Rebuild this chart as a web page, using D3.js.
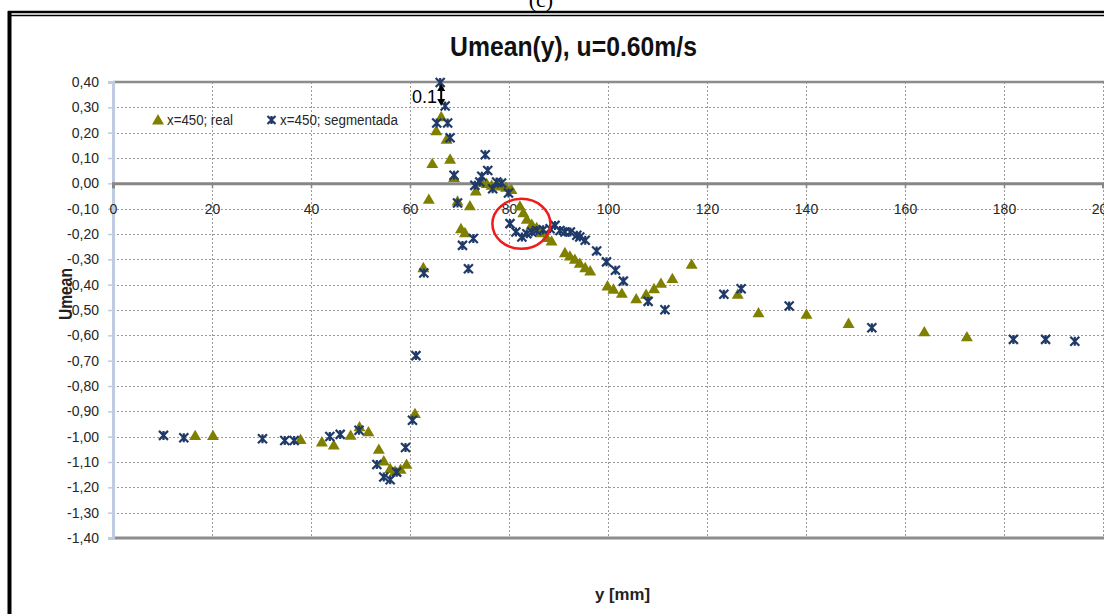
<!DOCTYPE html>
<html>
<head>
<meta charset="utf-8">
<script src="https://cdn.jsdelivr.net/npm/d3@7"></script>
<style>
  html, body { margin:0; padding:0; background:#fff; }
  svg { display:block; font-family:"Liberation Sans",Arial,sans-serif; }
  .grid line { stroke:#9a9a9a; stroke-width:1; stroke-dasharray:2,2; }
  .tick-label { fill:#262626; font-size:14px; }
</style>
</head>
<body>
<svg id="chart" width="1104" height="614"></svg>
<script>
// series: x=450, real (triangles)
const realX = [16.6, 20.2, 37.9, 42.2, 44.6, 48.0, 49.8, 51.6, 53.7, 54.7, 56.0, 57.0, 58.1, 59.3, 61.0,
  62.7, 63.8, 64.5, 65.3, 66.3, 67.4, 68.1, 68.9, 69.6, 70.3, 71.1, 72.1, 73.3, 74.5, 75.5, 76.5, 77.5,
  78.5, 79.4, 80.5, 82.2, 82.9, 83.6, 84.6, 85.6, 86.6, 87.6, 88.6, 91.3, 92.3, 93.3, 94.3, 95.4, 96.4,
  99.9, 101.1, 102.8, 105.7, 107.7, 109.3, 110.7, 113.0, 116.9, 126.2, 130.4, 140.1, 148.6, 163.9, 172.5];
const realY = [-1.00, -1.00, -1.015, -1.025, -1.037, -0.999, -0.965, -0.985, -1.054, -1.10, -1.13, -1.14, -1.133, -1.113, -0.913,
  -0.337, -0.067, 0.074, 0.203, 0.259, 0.170, 0.091, 0.019, -0.074, -0.183, -0.199, -0.093, -0.034, 0.00, -0.005, -0.012, -0.008,
  -0.015, -0.02, -0.028, -0.094, -0.12, -0.146, -0.166, -0.179, -0.199, -0.218, -0.232, -0.278, -0.291, -0.304, -0.32, -0.337, -0.35,
  -0.409, -0.422, -0.438, -0.46, -0.442, -0.42, -0.399, -0.38, -0.324, -0.442, -0.515, -0.521, -0.557, -0.59, -0.61];

// series: x=450, segmentada (stars)
const segX = [10.2, 14.3, 30.2, 34.7, 36.6, 43.8, 45.9, 49.7, 53.3, 54.7, 56.0, 57.3, 59.1, 60.5, 61.2,
  62.8, 65.4, 66.1, 67.1, 67.6, 68.1, 68.9, 69.6, 70.6, 71.8, 72.8, 73.1, 74.1, 74.5, 75.2, 75.7, 76.7,
  77.5, 78.5, 79.9, 80.2, 81.4, 82.6, 83.6, 84.6, 85.6, 86.9, 88.3, 89.3, 90.3, 91.3, 92.4, 93.7, 94.3,
  95.4, 97.7, 99.7, 101.5, 103.1, 108.1, 111.5, 123.4, 126.9, 136.6, 153.3, 181.9, 188.4, 194.3];
const segY = [-0.995, -1.004, -1.008, -1.015, -1.015, -0.999, -0.991, -0.975, -1.11, -1.159, -1.17, -1.14, -1.043, -0.935, -0.68,
  -0.354, 0.238, 0.398, 0.305, 0.238, 0.18, 0.032, -0.078, -0.245, -0.337, -0.218, -0.008, 0.005, 0.028, 0.113, 0.051, -0.021,
  0.005, 0.001, -0.038, -0.159, -0.192, -0.212, -0.199, -0.192, -0.186, -0.183, -0.179, -0.166, -0.186, -0.192, -0.192, -0.205, -0.212,
  -0.225, -0.267, -0.31, -0.343, -0.386, -0.466, -0.499, -0.438, -0.416, -0.484, -0.57, -0.616, -0.616, -0.623];

const xTicks = [0, 20, 40, 60, 80, 100, 120, 140, 160, 180, 200];
const yTicks = d3.range(-14, 5).map(i => i / 10);
const seriesNames = ["x=450; real", "x=450; segmentada"];

const OLIVE = '#808000', NAVY = '#1f3a68';

const svg = d3.select('#chart');
const x = d3.scaleLinear().domain([0, 200]).range([113, 1103]);
const y = d3.scaleLinear().domain([-1.4, 0.4]).range([538, 82]);
const fmt = v => d3.format('.2f')(v).replace('.', ',').replace('−', '-');
// squeeze a text to a given width (the original uses a narrow face)
const fit = (sel, w) => sel.attr('textLength', w).attr('lengthAdjust', 'spacingAndGlyphs');

// page frame (document border, cropped)
svg.append('text').attr('x', 541).attr('y', 7).attr('text-anchor', 'middle')
  .attr('font-family', 'Liberation Serif, serif').attr('font-size', 22).text('(c)');
svg.append('line').attr('x1', 8).attr('x2', 1104).attr('y1', 12).attr('y2', 12).attr('stroke', '#000').attr('stroke-width', 2.5);
svg.append('line').attr('x1', 8).attr('x2', 1104).attr('y1', 15.5).attr('y2', 15.5).attr('stroke', '#000').attr('stroke-width', 1.5);
svg.append('line').attr('x1', 9.5).attr('x2', 9.5).attr('y1', 11).attr('y2', 614).attr('stroke', '#000').attr('stroke-width', 4);

// grid
const grid = svg.append('g').attr('class', 'grid');
grid.selectAll('line.h').data(yTicks.filter(v => v !== 0 && v !== 0.4 && v !== -1.4)).join('line')
  .attr('x1', x(0)).attr('x2', 1104).attr('y1', d => Math.round(y(d)) + 0.5).attr('y2', d => Math.round(y(d)) + 0.5);
grid.selectAll('line.v').data(xTicks.slice(1)).join('line')
  .attr('y1', y(0.4)).attr('y2', y(-1.4)).attr('x1', d => Math.round(x(d)) + 0.5).attr('x2', d => Math.round(x(d)) + 0.5);

// plot border top/bottom
svg.append('line').attr('x1', x(0)).attr('x2', 1104).attr('y1', y(0.4)).attr('y2', y(0.4)).attr('stroke', '#8c8c8c').attr('stroke-width', 2.5);
svg.append('line').attr('x1', x(0)).attr('x2', 1104).attr('y1', y(-1.4)).attr('y2', y(-1.4)).attr('stroke', '#8c8c8c').attr('stroke-width', 3);

// y axis
const yAxis = svg.append('g').attr('transform', `translate(${x(0)},0)`)
  .call(d3.axisLeft(y).tickValues(yTicks).tickFormat(fmt).tickSize(5).tickPadding(9));
yAxis.select('.domain').attr('stroke', '#bfcbe0').attr('stroke-width', 3);
yAxis.selectAll('.tick line').attr('stroke', '#bfcbe0').attr('stroke-width', 1.5);
yAxis.selectAll('.tick text').attr('class', 'tick-label').attr('font-family', null).attr('font-size', null);

// x axis on zero line, labels sit one grid row below
const xAxis = svg.append('g').attr('transform', `translate(0,${y(0)})`)
  .call(d3.axisBottom(x).tickValues(xTicks).tickFormat(d3.format('d')).tickSize(5).tickPadding(0));
xAxis.select('.domain').attr('stroke', '#868686').attr('stroke-width', 3);
xAxis.selectAll('.tick line').attr('stroke', '#868686').attr('stroke-width', 1.5);
xAxis.selectAll('.tick text').attr('class', 'tick-label').attr('font-family', null).attr('font-size', null)
  .attr('dy', null).attr('y', y(-0.1) - y(0) + 5);

// markers
const tri = d3.symbol().type(d3.symbolTriangle).size(62);
svg.append('g').selectAll('path').data(d3.zip(realX, realY)).join('path')
  .attr('d', tri).attr('fill', OLIVE)
  .attr('transform', d => `translate(${x(d[0])},${y(d[1])})`);

function star(g, s) {
  g.append('path').attr('d', `M${-s},${-s}L${s},${s}M${-s},${s}L${s},${-s}M0,${-s}L0,${s}`)
    .attr('stroke', NAVY).attr('stroke-width', 2.2).attr('fill', 'none');
}
svg.append('g').selectAll('g').data(d3.zip(segX, segY)).join('g')
  .attr('transform', d => `translate(${x(d[0])},${y(d[1])})`)
  .each(function(){ star(d3.select(this), 4.5); });

// legend
const leg = svg.append('g');
leg.append('path').attr('d', tri).attr('fill', OLIVE).attr('transform', 'translate(158,121)');
fit(leg.append('text').attr('x', 167).attr('y', 125).attr('class', 'tick-label').text(seriesNames[0]), 66);
star(leg.append('g').attr('transform', 'translate(271.5,120)'), 4);
fit(leg.append('text').attr('x', 280).attr('y', 125).attr('class', 'tick-label').text(seriesNames[1]), 118);

// annotation "0.1" with double arrow
const ax = x(66.1) + 1;
svg.append('text').attr('x', 412).attr('y', 103).attr('font-size', 18).attr('fill', '#000').text('0.1');
svg.append('line').attr('x1', ax).attr('x2', ax).attr('y1', 88).attr('y2', 102).attr('stroke', '#000').attr('stroke-width', 2);
svg.append('path').attr('d', `M${ax-4},91L${ax},84L${ax+4},91Z`).attr('fill', '#000');
svg.append('path').attr('d', `M${ax-4},99L${ax},106L${ax+4},99Z`).attr('fill', '#000');

// red circle highlight
svg.append('ellipse').attr('cx', x(82.5)).attr('cy', y(-0.16)).attr('rx', 29).attr('ry', 25)
  .attr('fill', 'none').attr('stroke', '#ee1c1c').attr('stroke-width', 2.5);

// titles
fit(svg.append('text').attr('x', 450).attr('y', 56)
  .attr('font-size', 28).attr('font-weight', 'bold').attr('fill', '#111').text('Umean(y), u=0.60m/s'), 247);
fit(svg.append('text').attr('transform', 'translate(72,320) rotate(-90)')
  .attr('font-size', 18).attr('font-weight', 'bold').attr('fill', '#222').text('Umean'), 52);
fit(svg.append('text').attr('x', 595).attr('y', 600)
  .attr('font-size', 17).attr('font-weight', 'bold').attr('fill', '#222').text('y [mm]'), 55);
</script>
</body>
</html>
